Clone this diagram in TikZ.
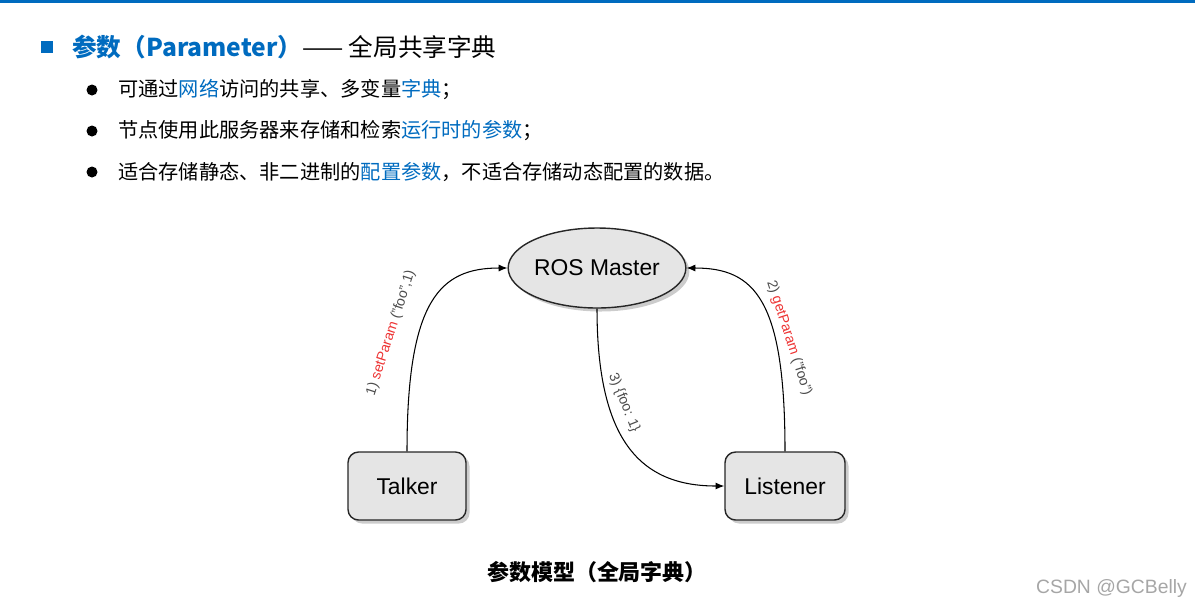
\documentclass[tikz,border=0pt]{standalone}
\usepackage{fontspec}
\setmainfont{Liberation Sans}
\newfontfamily\cjk{Noto Sans CJK SC}
\usetikzlibrary{shapes.geometric,arrows.meta,shadows}
\definecolor{hblue}{rgb}{0.0,0.42,0.75}
\definecolor{pred}{rgb}{0.93,0.2,0.2}
\definecolor{nodegray}{rgb}{0.9,0.9,0.9}
\tikzset{
  rosnode/.style={draw=black!85, line width=0.8pt, fill=nodegray, drop shadow={shadow xshift=2pt, shadow yshift=-2pt, opacity=0.4}},
  flow/.style={-{Latex[length=5pt,width=4pt]}, line width=0.6pt},
  lbl/.style={font=\fontsize{8}{9}\selectfont, text=black!70, inner sep=1pt},
  bullet/.style={anchor=west, font=\cjk\fontsize{11.5}{13}\selectfont, inner sep=0pt}
}
\begin{document}
\begin{tikzpicture}[x=0.02cm, y=-0.02cm]
\useasboundingbox (0,0) rectangle (1195,609);
\fill[hblue] (0,0) rectangle (1195,3);
% heading
\fill[hblue] (41,41) rectangle (53,53);
\node[anchor=west, inner sep=0pt, font=\cjk\fontsize{14}{16}\selectfont] (title) at (72,47)
  {\textcolor{hblue}{\bfseries 参数（Parameter）}—— 全局共享字典};
% bullets
\foreach \y in {90,131,172} \fill (92,\y) circle (5.5);
\node[bullet] (b1) at (118,90) {可通过\textcolor{hblue}{网络}访问的共享、多变量\textcolor{hblue}{字典}；};
\node[bullet] (b2) at (118,131) {节点使用此服务器来存储和检索\textcolor{hblue}{运行时的参数}；};
\node[bullet] (b3) at (118,172) {适合存储静态、非二进制的\textcolor{hblue}{配置参数}，不适合存储动态配置的数据。};
% diagram
\node[rosnode, ellipse, inner sep=0pt, minimum width=3.5cm, minimum height=1.6cm, font=\fontsize{13}{15}\selectfont] (master) at (597,268) {ROS Master};
\node[rosnode, rounded corners=6pt, minimum width=2.36cm, minimum height=1.36cm, font=\fontsize{13}{15}\selectfont] (talker) at (407,486) {Talker};
\node[rosnode, rounded corners=6pt, minimum width=2.4cm, minimum height=1.36cm, font=\fontsize{13}{15}\selectfont] (listener) at (785,486) {Listener};
\draw[flow] (talker.north) .. controls (407,300) and (440,268) .. (master.west);
\draw[flow] (listener.north) .. controls (785,300) and (755,268) .. (master.east);
\draw[flow] (master.south) .. controls (597,440) and (640,486) .. (listener.west);
\node[lbl, rotate=72] (l1) at (391,333) {1) \textcolor{pred}{setParam} ("foo",1)};
\node[lbl, rotate=-72] (l2) at (789,338) {2) \textcolor{pred}{getParam} ("foo")};
\node[lbl, rotate=-68] (l3) at (624,403) {3) \{foo: 1\}};
% caption
\node[font=\cjk\bfseries\fontsize{12.5}{14}\selectfont] (cap) at (597,572) {参数模型（全局字典）};
\node[anchor=east, text=black!35, font=\fontsize{11}{13}\selectfont] (wm) at (1193,588) {CSDN @GCBelly};
\end{tikzpicture}
\end{document}
